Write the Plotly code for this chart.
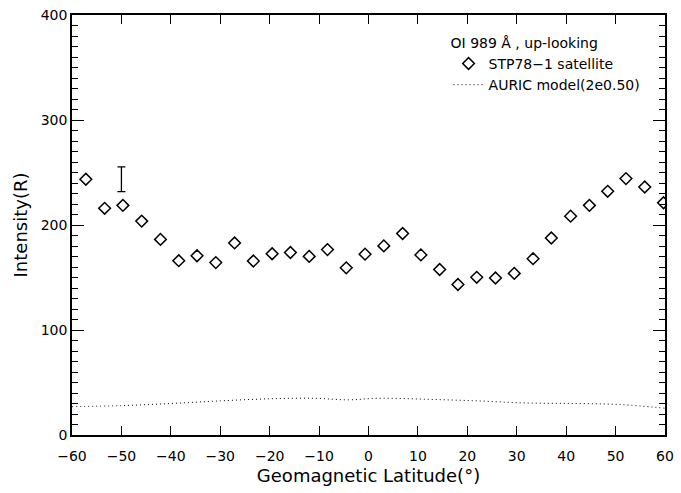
import plotly.graph_objects as go

# STP78-1 satellite measurements
sat_lat = [-57.2, -53.4, -49.7, -45.9, -42.1, -38.4, -34.7, -30.9, -27.1, -23.3,
           -19.5, -15.8, -12.0, -8.3, -4.5, -0.7, 3.1, 6.9, 10.6, 14.4,
           18.1, 21.9, 25.7, 29.5, 33.3, 37.0, 40.9, 44.7, 48.4, 52.1, 55.9, 59.7]
sat_int = [243.6, 215.9, 218.7, 203.7, 186.3, 166.0, 170.7, 164.2, 182.9, 165.7,
           172.6, 173.8, 170.1, 176.6, 159.2, 172.2, 180.1, 191.9, 171.5, 157.6,
           143.3, 150.2, 149.5, 153.9, 167.9, 187.6, 208.4, 218.7, 232.1, 244.2, 236.2, 221.2]

# AURIC model curve
model_lat = [-60, -50, -40, -30, -20, -11, -4, 2, 12, 22, 32, 42, 51, 60]
model_int = [27, 28, 30, 32.5, 34.5, 35, 33.5, 35, 34, 32.5, 30.5, 30, 29, 25.5]

# representative error bar
err_lat = [-50]
err_center = [243.6]
err_half = [11.8]

x_ticks = [-60, -50, -40, -30, -20, -10, 0, 10, 20, 30, 40, 50, 60]
y_ticks = [0, 100, 200, 300, 400]

FONT = "DejaVu Sans"

fig = go.Figure()
fig.add_trace(go.Scatter(
    x=sat_lat, y=sat_int, mode="markers", name="STP78\u22121 satellite",
    marker=dict(symbol="diamond-open", size=9, color="black", line=dict(width=1.5, color="black")),
))
fig.add_trace(go.Scatter(
    x=model_lat, y=model_int, mode="lines", name="AURIC model(2e0.50)",
    line=dict(color="black", width=1, dash="1px,3px", shape="spline"),
))
fig.add_trace(go.Scatter(
    x=err_lat, y=err_center, mode="markers", showlegend=False,
    marker=dict(size=1, color="rgba(0,0,0,0)"),
    error_y=dict(type="data", array=err_half, visible=True, color="black", thickness=1.3, width=4),
))

axis_common = dict(
    showline=True, linecolor="black", linewidth=1.5, mirror="ticks",
    ticks="inside", tickcolor="black", tickwidth=1.3,
    showgrid=False, zeroline=False,
    tickfont=dict(family=FONT, size=14, color="black"),
)

fig.update_layout(
    width=681, height=493,
    margin=dict(l=72, r=9, t=7, b=58),
    paper_bgcolor="white", plot_bgcolor="white",
    font=dict(family=FONT, color="black"),
    xaxis=dict(
        range=[-60, 60], tickvals=x_ticks, ticklen=9, ticklabelstandoff=7,
        title=dict(text="Geomagnetic Latitude(\u00b0)", font=dict(family=FONT, size=18), standoff=7),
        **axis_common,
    ),
    yaxis=dict(
        range=[0, 400], tickvals=y_ticks, ticklen=12,
        minor=dict(dtick=10, ticklen=6, ticks="inside", tickcolor="black", tickwidth=1.2),
        title=dict(text="Intensity(R)", font=dict(family=FONT, size=18), standoff=8),
        **axis_common,
    ),
    legend=dict(
        x=0.635, y=0.965, xanchor="left", yanchor="top",
        bgcolor="rgba(0,0,0,0)", borderwidth=0,
        font=dict(family=FONT, size=14, color="black"),
        title=dict(text="OI 989 \u00c5 , up-looking", font=dict(family=FONT, size=14)),
        tracegroupgap=0, itemwidth=30,
    ),
    showlegend=True,
)

fig.write_html("out.html", config={"displayModeBar": False},
               post_script="document.body.style.margin='0';")
